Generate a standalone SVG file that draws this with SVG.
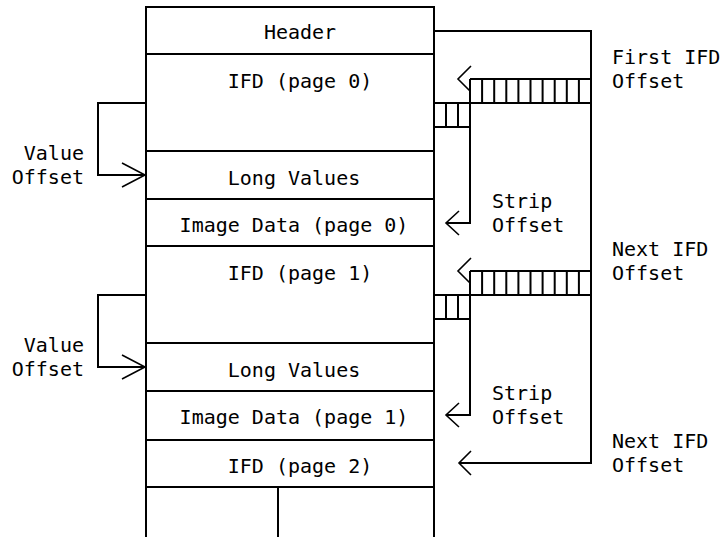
<svg xmlns="http://www.w3.org/2000/svg" width="722" height="537" viewBox="0 0 722 537">
<style>
.box{fill:#fff;stroke:#000;stroke-width:2}
.ln{fill:none;stroke:#000;stroke-width:2}
.ar{fill:none;stroke:#000;stroke-width:1.6}
text{font-family:"DejaVu Sans Mono","Liberation Mono",monospace;font-size:20px;fill:#000}
.c{text-anchor:middle}
.e{text-anchor:end}
</style>
<rect width="722" height="537" fill="#fff"/>
<g id="header"><rect class="box" x="146" y="7" width="288" height="47"/><text class="c" x="300" y="39">Header</text></g>
<g id="ifd0"><rect class="box" x="146" y="54" width="288" height="97"/><text class="c" x="300" y="88">IFD (page 0)</text></g>
<g id="long0"><rect class="box" x="146" y="151" width="288" height="48"/><text class="c" x="294" y="185">Long Values</text></g>
<g id="img0"><rect class="box" x="146" y="199" width="288" height="47"/><text class="c" x="294" y="232">Image Data (page 0)</text></g>
<g id="ifd1"><rect class="box" x="146" y="246" width="288" height="97"/><text class="c" x="300" y="280">IFD (page 1)</text></g>
<g id="long1"><rect class="box" x="146" y="343" width="288" height="48"/><text class="c" x="294" y="377">Long Values</text></g>
<g id="img1"><rect class="box" x="146" y="391" width="288" height="49"/><text class="c" x="294" y="424">Image Data (page 1)</text></g>
<g id="ifd2"><rect class="box" x="146" y="440" width="288" height="47"/><text class="c" x="300" y="473">IFD (page 2)</text></g>
<g id="tail"><path class="ln" d="M146 487V538M434 487V538M278 487V538"/></g>
<g id="connectors">
<!-- header to first IFD -->
<path class="ln" d="M434 31H591V463H459"/>
<path class="ar" d="M471 451L459 463L471 475"/>
<!-- first IFD band -->
<path class="ln" d="M470 79H591M434 103H591M434 127H470M470 79V223H446"/>
<path class="ln" d="M482.1 79V103M494.2 79V103M506.3 79V103M518.4 79V103M530.5 79V103M542.6 79V103M554.7 79V103M566.8 79V103M578.9 79V103M446 103V127M458 103V127"/>
<path class="ar" d="M471 66L458 79L470 91"/>
<path class="ar" d="M459 211L446 223L459 235"/>
<!-- next IFD band -->
<path class="ln" d="M470 271H591M434 295H591M434 319H470M470 271V415H446"/>
<path class="ln" d="M482.1 271V295M494.2 271V295M506.3 271V295M518.4 271V295M530.5 271V295M542.6 271V295M554.7 271V295M566.8 271V295M578.9 271V295M446 295V319M458 295V319"/>
<path class="ar" d="M471 258L458 271L470 283"/>
<path class="ar" d="M459 403L446 415L459 427"/>
<!-- value offsets -->
<path class="ln" d="M146 103H98V175H146"/>
<path class="ar" d="M122 163L145 175L122 187"/>
<path class="ln" d="M146 295H98V367H146"/>
<path class="ar" d="M122 355L145 367L122 379"/>
</g>
<g id="labels">
<text x="612" y="64">First IFD</text><text x="612" y="88">Offset</text>
<text x="492" y="208">Strip</text><text x="492" y="232">Offset</text>
<text x="612" y="256">Next IFD</text><text x="612" y="280">Offset</text>
<text x="492" y="400">Strip</text><text x="492" y="424">Offset</text>
<text x="612" y="448">Next IFD</text><text x="612" y="472">Offset</text>
<text class="e" x="84" y="160">Value</text><text class="e" x="84" y="184">Offset</text>
<text class="e" x="84" y="352">Value</text><text class="e" x="84" y="376">Offset</text>
</g>
</svg>
